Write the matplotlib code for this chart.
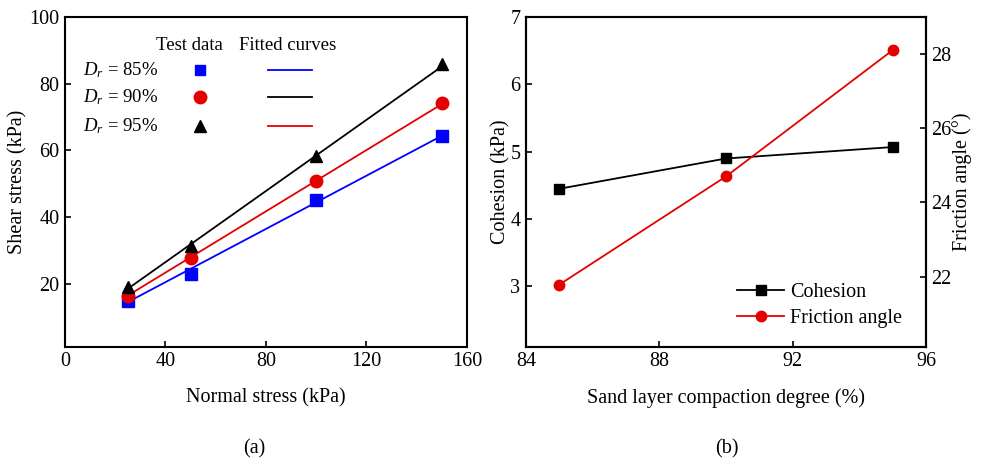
import numpy as np
import matplotlib
matplotlib.use("Agg")
import matplotlib.pyplot as plt

plt.rcParams['font.family'] = ['Liberation Serif', 'DejaVu Serif']
plt.rcParams['mathtext.fontset'] = 'custom'
plt.rcParams['mathtext.rm'] = 'Liberation Serif'
plt.rcParams['mathtext.it'] = 'Liberation Serif:italic'
plt.rcParams['font.size'] = 14.5

# (a) direct shear test data
normal_stress = [25, 50, 100, 150]
shear_85 = [14.9, 23.0, 45.0, 64.2]
shear_90 = [16.4, 27.8, 50.7, 74.1]
shear_95 = [19.0, 31.3, 58.2, 85.8]

# (b) strength parameters
compaction = [85, 90, 95]
cohesion = [4.45, 4.90, 5.07]
friction = [21.78, 24.70, 28.11]

fig = plt.figure(figsize=(9.83, 4.65), dpi=100)
ax1 = fig.add_axes([0.066, 0.254, 0.409, 0.709])
ax2 = fig.add_axes([0.535, 0.254, 0.407, 0.709])

# fitted Mohr-Coulomb lines: tau = c + sigma*tan(phi)
sig = np.array([normal_stress[0], normal_stress[-1]])
fits = [c + sig * np.tan(np.radians(p)) for c, p in zip(cohesion, friction)]

ax1.plot(sig, fits[0], color='#0000ff', lw=1.3)
ax1.plot(sig, fits[1], color='#e50000', lw=1.3)
ax1.plot(sig, fits[2], color='black', lw=1.3)
ax1.plot(normal_stress, shear_85, 's', color='#0000ff', ms=8, ls='none')
ax1.plot(normal_stress, shear_90, 'o', color='#e50000', ms=9, ls='none')
ax1.plot(normal_stress, shear_95, '^', color='black', ms=9, ls='none')

ax1.set_xlim(0, 160)
ax1.set_ylim(1, 100)
ax1.set_xticks([0, 40, 80, 120, 160])
ax1.set_yticks([20, 40, 60, 80, 100])
ax1.set_xlabel('Normal stress (kPa)', labelpad=12)
ax1.set_ylabel('Shear stress (kPa)', labelpad=1)

# custom legend block
tr = ax1.transAxes
ax1.text(0.311, 0.915, 'Test data', transform=tr, ha='center', va='center', fontsize=13.5)
ax1.text(0.555, 0.915, 'Fitted curves', transform=tr, ha='center', va='center', fontsize=13.5)
rows = [0.839, 0.758, 0.670]
labels = [r'$D_r$ = 85%', r'$D_r$ = 90%', r'$D_r$ = 95%']
mk = [('s', '#0000ff', 7), ('o', '#e50000', 9), ('^', 'black', 9)]
lc = ['#0000ff', 'black', '#e50000']
for y, lab, (m, c, s), l in zip(rows, labels, mk, lc):
    ax1.text(0.045, y, lab, transform=tr, ha='left', va='center', fontsize=13.5)
    ax1.plot([0.336], [y], m, color=c, ms=s, transform=tr)
    ax1.plot([0.505, 0.615], [y, y], color=l, lw=1.3, transform=tr)

# (b)
ax2.plot(compaction, cohesion, '-s', color='black', ms=7, lw=1.3, label='Cohesion')
ax2.set_xlim(84, 96)
ax2.set_ylim(2.1, 7)
ax2.set_xticks([84, 88, 92, 96])
ax2.set_yticks([3, 4, 5, 6, 7])
ax2.set_xlabel('Sand layer compaction degree (%)', labelpad=12)
ax2.set_ylabel('Cohesion (kPa)', labelpad=0)

ax3 = ax2.twinx()
ax3.plot(compaction, friction, '-o', color='#e50000', ms=7.5, lw=1.3, label='Friction angle')
ax3.set_ylim(20.1, 29)
ax3.set_yticks([22, 24, 26, 28])
ax3.set_ylabel('Friction angle (°)', labelpad=0)

h1, l1 = ax2.get_legend_handles_labels()
h2, l2 = ax3.get_legend_handles_labels()
ax3.legend(h1 + h2, l1 + l2, loc='lower right', frameon=False,
           bbox_to_anchor=(0.985, 0.003), handlelength=2.3, handletextpad=0.3,
           labelspacing=0.35, fontsize=14.5)

for ax in (ax1, ax2, ax3):
    ax.tick_params(direction='in', length=4, width=1.2, labelsize=14.5, pad=4)
    for sp in ax.spines.values():
        sp.set_linewidth(1.5)

fig.text(0.259, 0.035, '(a)', ha='center', va='center', fontsize=14.5)
fig.text(0.739, 0.035, '(b)', ha='center', va='center', fontsize=14.5)

fig.savefig('out.png', dpi=100)
